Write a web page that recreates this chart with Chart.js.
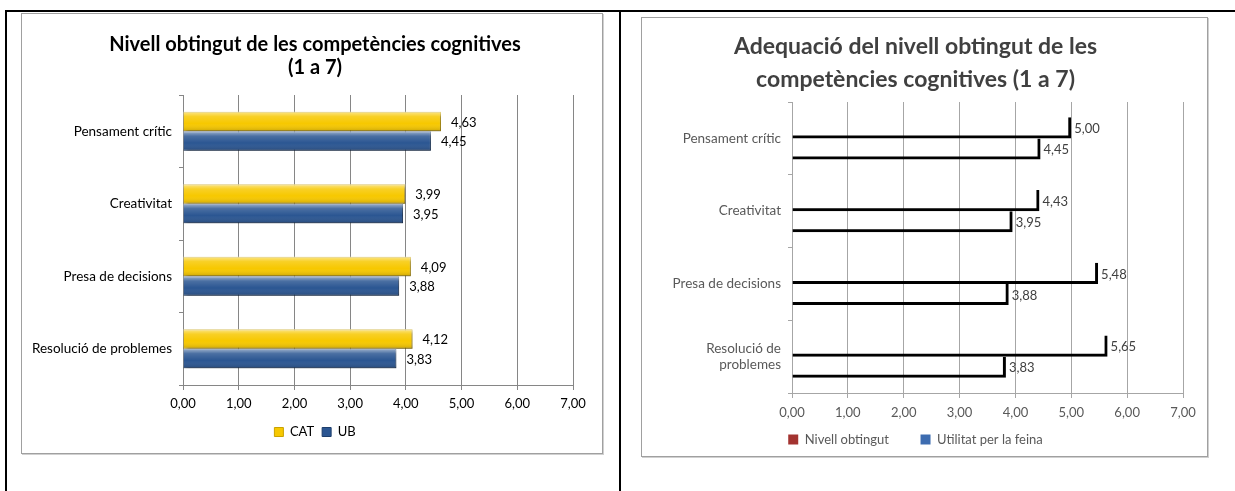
<!DOCTYPE html>
<html>
<head>
<meta charset="utf-8">
<script src="https://cdn.jsdelivr.net/npm/chart.js@4.4.1/dist/chart.umd.min.js"></script>
<style>
  body { margin: 0; background: #fff; width: 1235px; height: 491px; overflow: hidden; position: relative; }
  .rule { position: absolute; background: #000; }
  .box { position: absolute; border: 1px solid #a0a0a0; box-shadow: 1px 1px 0 #d0d0d0; background: #fff; }
  .box canvas { display: block; }
</style>
</head>
<body>
<div class="rule" style="left:5px; top:10px; width:1230px; height:2px"></div>
<div class="rule" style="left:5px; top:10px; width:2px; height:481px"></div>
<div class="rule" style="left:619px; top:10px; width:2px; height:481px"></div>
<div class="box" style="left:21px; top:13px; width:580px; height:439px"><canvas id="nivellChart" width="580" height="439"></canvas></div>
<div class="box" style="left:641px; top:17px; width:565px; height:438px"><canvas id="adequacioChart" width="565" height="438"></canvas></div>
<script>
const categories = [ 'Pensament crític', 'Creativitat', 'Presa de decisions', 'Resolució de problemes' ]
const catValues = [ 4.63, 3.99, 4.09, 4.12 ]
const ubValues = [ 4.45, 3.95, 3.88, 3.83 ]
const utilitatValues = [ 5.00, 4.43, 5.48, 5.65 ]
const nivellValues = [ 4.45, 3.95, 3.88, 3.83 ]
const xTicks = [ 0, 1, 2, 3, 4, 5, 6, 7 ]

const FONT = 'Lato, "Liberation Sans", sans-serif'
const fmt = v => v.toFixed( 2 ).replace( '.', ',' )

// splits long category names in two lines
function wrapLabel ( label ) {
    if ( label.length <= 18 ) return label
    const cut = label.lastIndexOf( ' ' )
    return [ label.slice( 0, cut ), label.slice( cut + 1 ) ]
}

// value written next to the end of each bar
const valueLabels = {
    id: 'valueLabels',
    afterDatasetsDraw ( chart, args, opts ) {
        const ctx = chart.ctx
        ctx.save()
        ctx.font = opts.labelFont
        ctx.fillStyle = opts.color
        ctx.textBaseline = 'middle'
        ctx.textAlign = 'left'
        chart.data.datasets.forEach( ( ds, i ) => {
            chart.getDatasetMeta( i ).data.forEach( ( bar, j ) => {
                ctx.fillText( fmt( ds.data[ j ] ), bar.x + opts.offset, bar.y + 1 )
            } )
        } )
        ctx.restore()
    }
}

// title and legend are centred a bit right of the plot in the original
const shiftBlocks = {
    id: 'shiftBlocks',
    afterLayout ( chart, args, opts ) {
        chart.titleBlock.left += opts.dx
        chart.legend.left += opts.dx
    }
}

// shadow + glossy shading for the 3D-looking bars
const bevel = {
    id: 'bevel',
    beforeDatasetsDraw ( chart ) {
        const ctx = chart.ctx
        ctx.save()
        ctx.shadowColor = 'rgba(0,0,0,0.35)'
        ctx.shadowOffsetX = 2
        ctx.shadowOffsetY = 2
        ctx.shadowBlur = 3
    },
    afterDatasetsDraw ( chart ) {
        const ctx = chart.ctx
        ctx.restore()
        chart.data.datasets.forEach( ( ds, i ) => {
            chart.getDatasetMeta( i ).data.forEach( bar => {
                const top = bar.y - bar.height / 2
                const g = ctx.createLinearGradient( 0, top, 0, top + bar.height )
                g.addColorStop( 0, 'rgba(255,255,255,0.55)' )
                g.addColorStop( 0.25, 'rgba(255,255,255,0.15)' )
                g.addColorStop( 0.6, 'rgba(255,255,255,0)' )
                g.addColorStop( 1, 'rgba(0,0,0,0.18)' )
                ctx.fillStyle = g
                ctx.fillRect( bar.base, top, bar.x - bar.base, bar.height )
            } )
        } )
    }
}

// Left chart
new Chart( document.getElementById( 'nivellChart' ), {
    type: 'bar',
    data: {
        labels: categories,
        datasets: [
            { label: 'CAT', data: catValues, backgroundColor: '#F7C800', borderColor: '#C9A200', borderWidth: 1 },
            { label: 'UB', data: ubValues, backgroundColor: '#2B5692', borderColor: '#1D3E6C', borderWidth: 1 }
        ]
    },
    options: {
        indexAxis: 'y',
        responsive: false,
        animation: false,
        categoryPercentage: 0.54,
        barPercentage: 1,
        layout: { padding: { left: 0, right: 29, top: 0, bottom: 4.5 } },
        scales: {
            x: {
                min: 0,
                max: 7,
                afterBuildTicks: s => { s.ticks = xTicks.map( v => ( { value: v } ) ) },
                afterFit: s => { s.height = 32.5 },
                ticks: { callback: v => fmt( v ), color: '#000', font: { family: FONT, size: 13 }, padding: 6 },
                grid: { color: '#868686', tickLength: 5 },
                border: { color: '#868686' }
            },
            y: {
                afterFit: s => { s.width = 161 },
                ticks: { color: '#000', font: { family: FONT, size: 13.5 }, padding: 7 },
                grid: { drawOnChartArea: false, tickLength: 4, color: '#868686' },
                border: { color: '#868686' }
            }
        },
        plugins: {
            title: {
                display: true,
                text: [ 'Nivell obtingut de les competències cognitives', '(1 a 7)' ],
                color: '#000',
                font: { family: FONT, size: 20, weight: 'bold', lineHeight: 1.15 },
                padding: { top: 19.5, bottom: 15.5 }
            },
            legend: {
                position: 'bottom',
                labels: { boxWidth: 9, boxHeight: 9, padding: 8, color: '#000', font: { family: FONT, size: 13 } }
            },
            tooltip: { enabled: false },
            shiftBlocks: { dx: 35 },
            valueLabels: { labelFont: '13px ' + FONT, color: '#000', offset: 10 }
        }
    },
    plugins: [ bevel, valueLabels, shiftBlocks ]
} )

// Right chart
new Chart( document.getElementById( 'adequacioChart' ), {
    type: 'bar',
    data: {
        labels: categories,
        datasets: [
            {
                label: 'Utilitat per la feina', data: utilitatValues, legendColor: '#3D6CB0',
                backgroundColor: 'rgba(0,0,0,0)', borderColor: '#000',
                borderWidth: { top: 0, left: 0, right: 3, bottom: 3 }
            },
            {
                label: 'Nivell obtingut', data: nivellValues, legendColor: '#A33330',
                backgroundColor: 'rgba(0,0,0,0)', borderColor: '#000',
                borderWidth: { top: 0, left: 0, right: 3, bottom: 3 }
            }
        ]
    },
    options: {
        indexAxis: 'y',
        responsive: false,
        animation: false,
        categoryPercentage: 0.58,
        barPercentage: 1,
        layout: { padding: { left: 6, right: 24, top: 0, bottom: 0 } },
        scales: {
            x: {
                min: 0,
                max: 7,
                afterBuildTicks: s => { s.ticks = xTicks.map( v => ( { value: v } ) ) },
                afterFit: s => { s.height = 28 },
                ticks: { callback: v => fmt( v ), color: '#595959', font: { family: FONT, size: 13 }, padding: 7 },
                grid: { color: '#a6a6a6', tickLength: 5 },
                border: { color: '#a6a6a6' }
            },
            y: {
                afterFit: s => { s.width = 144 },
                ticks: {
                    color: '#595959',
                    font: { family: FONT, size: 13.5 },
                    padding: 7,
                    callback ( value ) { return wrapLabel( this.getLabelForValue( value ) ) }
                },
                grid: { drawOnChartArea: false, tickLength: 4, color: '#a6a6a6' },
                border: { color: '#a6a6a6' }
            }
        },
        plugins: {
            title: {
                display: true,
                text: [ 'Adequació del nivell obtingut de les', 'competències cognitives (1 a 7)' ],
                color: '#404040',
                font: { family: FONT, size: 23, weight: 'bold', lineHeight: 1.435 },
                padding: { top: 12.5, bottom: 5.5 }
            },
            legend: {
                position: 'bottom',
                labels: {
                    boxWidth: 10,
                    boxHeight: 10,
                    padding: 12,
                    color: '#595959',
                    font: { family: FONT, size: 13 },
                    // legend lists the lower bar first, like the original
                    generateLabels: chart => chart.data.datasets.map( ( ds, i ) => ( {
                        text: ds.label + ( i > 0 ? '\u2003\u2003' : '' ),
                        fillStyle: ds.legendColor,
                        strokeStyle: ds.legendColor,
                        lineWidth: 0,
                        fontColor: '#595959',
                        datasetIndex: i
                    } ) ).reverse()
                }
            },
            tooltip: { enabled: false },
            valueLabels: { labelFont: '13px ' + FONT, color: '#404040', offset: 3 }
        }
    },
    plugins: [ valueLabels ]
} )
</script>
</body>
</html>
